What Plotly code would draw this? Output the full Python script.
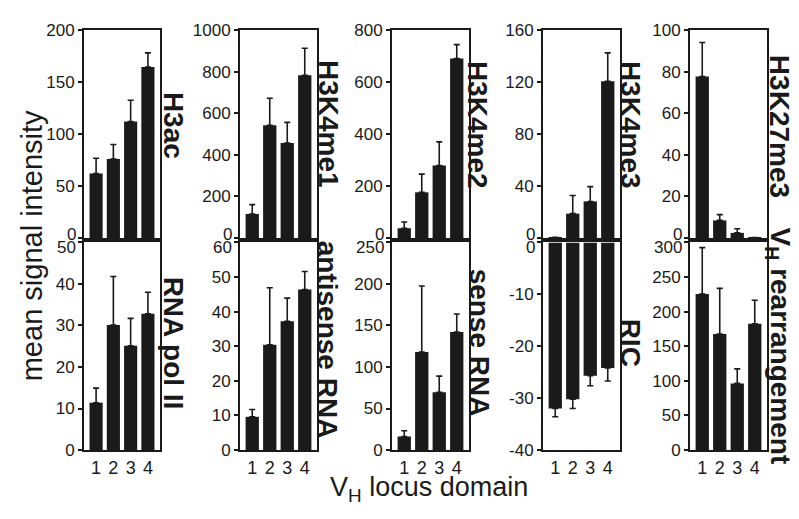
import plotly.graph_objects as go

# ---------------- data ----------------
domains = [1, 2, 3, 4]
tick_text = ["1", "2", "3", "4"]

panel_names = ["H3ac", "H3K4me1", "H3K4me2", "H3K4me3", "H3K27me3",
               "RNA pol II", "antisense RNA", "sense RNA", "RIC", "V<sub>H</sub> rearrangement"]

h3ac = [62, 76, 112, 164.5]
h3ac_err = [14.7, 14, 20.5, 13.5]

h3k4me1 = [116, 542, 457, 782]
h3k4me1_err = [45, 130, 99, 130]

h3k4me2 = [38, 176, 279, 690]
h3k4me2_err = [24, 70, 91, 54]

h3k4me3 = [0.6, 18.8, 28.2, 120.6]
h3k4me3_err = [0, 13.9, 11.4, 21.8]

h3k27me3 = [77.6, 8.5, 2.5, 0.3]
h3k27me3_err = [16.4, 2.8, 2.0, 0]

rna_pol2 = [11.4, 30.1, 25.1, 32.8]
rna_pol2_err = [3.5, 11.7, 6.6, 5.2]

antisense_rna = [9.6, 30.4, 37.2, 46.4]
antisense_rna_err = [2.1, 16.5, 6.7, 5.2]

sense_rna = [16.3, 118, 69.6, 142]
sense_rna_err = [7, 79.6, 19.4, 21.8]

ric = [-32.0, -30.2, -25.7, -24.2]
ric_err = [1.6, 1.8, 1.9, 2.5]

vh_rearr = [225.5, 167.6, 96.3, 182.4]
vh_rearr_err = [67, 66, 21, 34]

y_ranges = [[0, 200], [0, 1000], [0, 800], [0, 160], [0, 100],
            [0, 50], [0, 60], [0, 250], [-40, 0], [0, 300]]
y_dticks = [50, 200, 200, 40, 20, 10, 10, 50, 10, 50]

values = [h3ac, h3k4me1, h3k4me2, h3k4me3, h3k27me3,
          rna_pol2, antisense_rna, sense_rna, ric, vh_rearr]
errors = [h3ac_err, h3k4me1_err, h3k4me2_err, h3k4me3_err, h3k27me3_err,
          rna_pol2_err, antisense_rna_err, sense_rna_err, ric_err, vh_rearr_err]

# ---------------- layout helpers ----------------
W, H = 799, 519
FONT = "Liberation Sans, Arial, Helvetica, sans-serif"
INK = "#1a1a1a"
TICK_SIZE = 17

col_px = [(76, 152), (232, 309), (384, 461), (535, 612), (682, 759)]
row_px = [(13.5, 229.5), (234, 449.5)]
label_pos = [(165, 112), (320, 111), (469, 112), (622, 112), (771, 113),
             (165, 338), (319, 335), (471, 338), (622, 338), (770, 341)]


def px_x(p):
    return p / W


def px_y(p):
    return 1 - p / H


def fmt(v):
    return str(int(v)) if float(v).is_integer() else str(v)


fig = go.Figure()
layout = dict(
    width=W, height=H,
    margin=dict(l=0, r=0, t=0, b=0),
    paper_bgcolor="white", plot_bgcolor="white",
    showlegend=False,
    font=dict(family=FONT, color=INK),
    bargap=0.24,
)
annotations = []

for i in range(10):
    r, c = divmod(i, 5)
    n = "" if i == 0 else str(i + 1)
    vals = values[i]
    errs = errors[i]
    if min(vals) < 0:
        plus = [0] * 4
        minus = errs
    else:
        plus = errs
        minus = [0] * 4
    fig.add_trace(go.Bar(
        x=domains, y=vals,
        xaxis="x" + n, yaxis="y" + n,
        marker=dict(color=INK, line=dict(width=0)),
        error_y=dict(type="data", symmetric=False, array=plus, arrayminus=minus,
                     color=INK, thickness=1.6, width=3),
    ))
    x0, x1 = col_px[c]
    ytop, ybot = row_px[r]
    layout["xaxis" + n] = dict(
        domain=[px_x(x0), px_x(x1)], anchor="y" + n,
        range=[0.3, 4.7], tickmode="array", tickvals=domains,
        ticktext=tick_text, showticklabels=(r == 1),
        ticks="", showline=True, linecolor=INK, linewidth=2, mirror=True,
        showgrid=False, zeroline=False, fixedrange=True,
        tickfont=dict(size=18, color=INK, family=FONT),
    )
    lo, hi = y_ranges[i]
    d = y_dticks[i]
    tvals = []
    v = lo
    while v <= hi + 1e-9:
        tvals.append(v)
        v += d
    # the label at the boundary between the two rows is drawn as a nudged annotation
    edge_val = lo if r == 0 else hi
    main_vals = [t for t in tvals if t != edge_val]
    layout["yaxis" + n] = dict(
        domain=[px_y(ybot), px_y(ytop)], anchor="x" + n,
        range=y_ranges[i], tickmode="array", tickvals=main_vals,
        ticktext=[fmt(t) for t in main_vals],
        ticks="outside", ticklen=4, tickwidth=1.5, tickcolor=INK,
        minor=dict(tickmode="array", tickvals=[edge_val], ticks="outside",
                   ticklen=4, tickwidth=1.5, tickcolor=INK, showgrid=False),
        showline=True, linecolor=INK, linewidth=2, mirror=True,
        showgrid=False, zeroline=False, fixedrange=True,
        tickfont=dict(size=TICK_SIZE, color=INK, family=FONT),
    )
    annotations.append(dict(
        text=fmt(edge_val), x=px_x(x0 - 6), y=px_y(226 if r == 0 else 239),
        xref="paper", yref="paper", xanchor="right", yanchor="middle",
        showarrow=False, font=dict(size=TICK_SIZE, color=INK, family=FONT),
    ))
    lx, ly = label_pos[i]
    annotations.append(dict(
        text="<b>" + panel_names[i] + "</b>",
        x=px_x(lx), y=px_y(ly), xref="paper", yref="paper",
        xanchor="center", yanchor="middle", textangle=90, showarrow=False,
        font=dict(size=28, color=INK, family=FONT),
    ))

annotations.append(dict(
    text="mean signal intensity", x=px_x(24), y=px_y(238), xref="paper", yref="paper",
    xanchor="center", yanchor="middle", textangle=-90, showarrow=False,
    font=dict(size=29, color=INK, family=FONT),
))
annotations.append(dict(
    text="V<sub>H</sub> locus domain", x=px_x(421), y=px_y(490), xref="paper", yref="paper",
    xanchor="center", yanchor="middle", showarrow=False,
    font=dict(size=27, color=INK, family=FONT),
))
layout["annotations"] = annotations
fig.update_layout(**layout)
fig.write_html("out.html")
